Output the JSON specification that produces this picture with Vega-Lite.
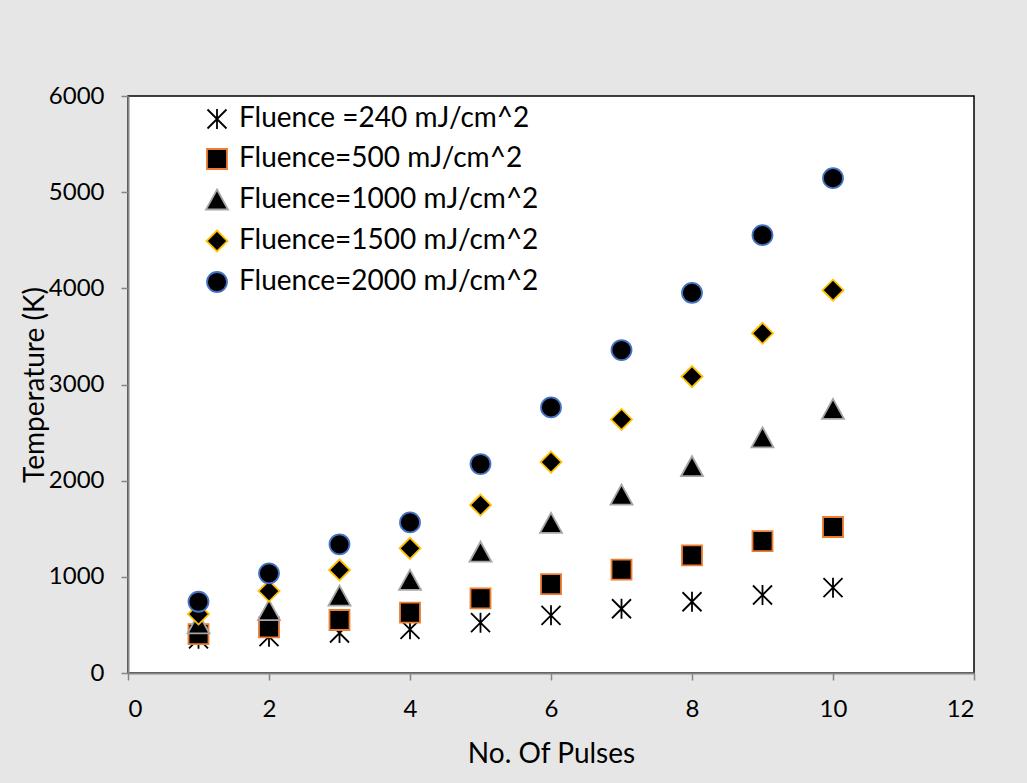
{
  "$schema": "https://vega.github.io/schema/vega-lite/v6.json",
  "width": 846,
  "height": 577,
  "autosize": {"type": "none"},
  "padding": {"left": 128, "top": 96, "right": 53, "bottom": 110},
  "background": "#e6e6e6",
  "config": {
    "font": "Lato",
    "view": {"fill": "white", "stroke": "black", "strokeWidth": 1.5}
  },
  "data": {
    "values": [
      {"pulses": 1, "temp": 355, "series": "Fluence =240 mJ/cm^2"},
      {"pulses": 2, "temp": 378, "series": "Fluence =240 mJ/cm^2"},
      {"pulses": 3, "temp": 416, "series": "Fluence =240 mJ/cm^2"},
      {"pulses": 4, "temp": 454, "series": "Fluence =240 mJ/cm^2"},
      {"pulses": 5, "temp": 523, "series": "Fluence =240 mJ/cm^2"},
      {"pulses": 6, "temp": 600, "series": "Fluence =240 mJ/cm^2"},
      {"pulses": 7, "temp": 668, "series": "Fluence =240 mJ/cm^2"},
      {"pulses": 8, "temp": 741, "series": "Fluence =240 mJ/cm^2"},
      {"pulses": 9, "temp": 811, "series": "Fluence =240 mJ/cm^2"},
      {"pulses": 10, "temp": 887, "series": "Fluence =240 mJ/cm^2"},
      {"pulses": 1, "temp": 404, "series": "Fluence=500 mJ/cm^2"},
      {"pulses": 2, "temp": 475, "series": "Fluence=500 mJ/cm^2"},
      {"pulses": 3, "temp": 551, "series": "Fluence=500 mJ/cm^2"},
      {"pulses": 4, "temp": 627, "series": "Fluence=500 mJ/cm^2"},
      {"pulses": 5, "temp": 776, "series": "Fluence=500 mJ/cm^2"},
      {"pulses": 6, "temp": 925, "series": "Fluence=500 mJ/cm^2"},
      {"pulses": 7, "temp": 1074, "series": "Fluence=500 mJ/cm^2"},
      {"pulses": 8, "temp": 1223, "series": "Fluence=500 mJ/cm^2"},
      {"pulses": 9, "temp": 1372, "series": "Fluence=500 mJ/cm^2"},
      {"pulses": 10, "temp": 1518, "series": "Fluence=500 mJ/cm^2"},
      {"pulses": 1, "temp": 510, "series": "Fluence=1000 mJ/cm^2"},
      {"pulses": 2, "temp": 648, "series": "Fluence=1000 mJ/cm^2"},
      {"pulses": 3, "temp": 800, "series": "Fluence=1000 mJ/cm^2"},
      {"pulses": 4, "temp": 963, "series": "Fluence=1000 mJ/cm^2"},
      {"pulses": 5, "temp": 1256, "series": "Fluence=1000 mJ/cm^2"},
      {"pulses": 6, "temp": 1556, "series": "Fluence=1000 mJ/cm^2"},
      {"pulses": 7, "temp": 1850, "series": "Fluence=1000 mJ/cm^2"},
      {"pulses": 8, "temp": 2145, "series": "Fluence=1000 mJ/cm^2"},
      {"pulses": 9, "temp": 2446, "series": "Fluence=1000 mJ/cm^2"},
      {"pulses": 10, "temp": 2741, "series": "Fluence=1000 mJ/cm^2"},
      {"pulses": 1, "temp": 613, "series": "Fluence=1500 mJ/cm^2"},
      {"pulses": 2, "temp": 852, "series": "Fluence=1500 mJ/cm^2"},
      {"pulses": 3, "temp": 1071, "series": "Fluence=1500 mJ/cm^2"},
      {"pulses": 4, "temp": 1296, "series": "Fluence=1500 mJ/cm^2"},
      {"pulses": 5, "temp": 1746, "series": "Fluence=1500 mJ/cm^2"},
      {"pulses": 6, "temp": 2193, "series": "Fluence=1500 mJ/cm^2"},
      {"pulses": 7, "temp": 2637, "series": "Fluence=1500 mJ/cm^2"},
      {"pulses": 8, "temp": 3082, "series": "Fluence=1500 mJ/cm^2"},
      {"pulses": 9, "temp": 3532, "series": "Fluence=1500 mJ/cm^2"},
      {"pulses": 10, "temp": 3981, "series": "Fluence=1500 mJ/cm^2"},
      {"pulses": 1, "temp": 741, "series": "Fluence=2000 mJ/cm^2"},
      {"pulses": 2, "temp": 1036, "series": "Fluence=2000 mJ/cm^2"},
      {"pulses": 3, "temp": 1338, "series": "Fluence=2000 mJ/cm^2"},
      {"pulses": 4, "temp": 1566, "series": "Fluence=2000 mJ/cm^2"},
      {"pulses": 5, "temp": 2173, "series": "Fluence=2000 mJ/cm^2"},
      {"pulses": 6, "temp": 2762, "series": "Fluence=2000 mJ/cm^2"},
      {"pulses": 7, "temp": 3358, "series": "Fluence=2000 mJ/cm^2"},
      {"pulses": 8, "temp": 3953, "series": "Fluence=2000 mJ/cm^2"},
      {"pulses": 9, "temp": 4553, "series": "Fluence=2000 mJ/cm^2"},
      {"pulses": 10, "temp": 5146, "series": "Fluence=2000 mJ/cm^2"}
    ]
  },
  "mark": {"type": "point", "filled": true, "fill": "black", "strokeWidth": 1.8, "opacity": 1, "size": 400},
  "encoding": {
    "x": {
      "field": "pulses",
      "type": "quantitative",
      "scale": {"domain": [0, 12], "nice": false, "zero": false},
      "axis": {
        "values": [0, 2, 4, 6, 8, 10, 12],
        "format": "d",
        "title": "No. Of Pulses",
        "grid": false,
        "domainColor": "#868686",
        "domainWidth": 2,
        "tickColor": "#868686",
        "tickWidth": 1.5,
        "tickSize": 7,
        "labelFontSize": 24,
        "labelColor": "black",
        "labelBaseline": "alphabetic",
        "labelPadding": 36,
        "titleFontSize": 28,
        "titleFontWeight": "normal",
        "titleColor": "black",
        "titleBaseline": "alphabetic",
        "titleY": 89
      }
    },
    "y": {
      "field": "temp",
      "type": "quantitative",
      "scale": {"domain": [0, 6000], "nice": false},
      "axis": {
        "values": [0, 1000, 2000, 3000, 4000, 5000, 6000],
        "format": "d",
        "title": "Temperature (K)",
        "grid": false,
        "domainColor": "#868686",
        "domainWidth": 2,
        "tickColor": "#868686",
        "tickWidth": 1.5,
        "tickSize": 7,
        "labelFontSize": 24,
        "labelColor": "black",
        "labelPadding": 17,
        "titleFontSize": 28,
        "titleFontWeight": "normal",
        "titleColor": "black",
        "titleBaseline": "alphabetic",
        "titleAngle": -90,
        "titleAlign": "center",
        "titleX": -85,
        "titleY": 288.5
      }
    },
    "shape": {
      "field": "series",
      "type": "nominal",
      "sort": null,
      "scale": {
        "domain": ["Fluence =240 mJ/cm^2", "Fluence=500 mJ/cm^2", "Fluence=1000 mJ/cm^2", "Fluence=1500 mJ/cm^2", "Fluence=2000 mJ/cm^2"],
        "range": ["M-0.95,-0.95L0.95,0.95M0.95,-0.95L-0.95,0.95M0,-1L0,1", "square", "M0,-1.05L1.1,0.95L-1.1,0.95Z", "M0,-1.05L1.05,0L0,1.05L-1.05,0Z", "circle"]
      },
      "legend": {
        "title": null,
        "orient": "none",
        "legendX": 75,
        "legendY": 9,
        "padding": 0,
        "labelFontSize": 28,
        "labelColor": "black",
        "labelLimit": 0,
        "labelOffset": 8,
        "rowPadding": 12,
        "symbolSize": 400,
        "symbolFillColor": "black",
        "symbolStrokeWidth": 1.8,
        "symbolOpacity": 1
      }
    },
    "stroke": {
      "field": "series",
      "type": "nominal",
      "sort": null,
      "scale": {
        "domain": ["Fluence =240 mJ/cm^2", "Fluence=500 mJ/cm^2", "Fluence=1000 mJ/cm^2", "Fluence=1500 mJ/cm^2", "Fluence=2000 mJ/cm^2"],
        "range": ["black", "#ED7D31", "#A5A5A5", "#FFC000", "#4472C4"]
      },
      "legend": {
        "title": null,
        "orient": "none",
        "legendX": 75,
        "legendY": 9,
        "padding": 0,
        "labelFontSize": 28,
        "labelColor": "black",
        "labelLimit": 0,
        "labelOffset": 8,
        "rowPadding": 12,
        "symbolSize": 400,
        "symbolFillColor": "black",
        "symbolStrokeWidth": 1.8,
        "symbolOpacity": 1
      }
    }
  }
}
